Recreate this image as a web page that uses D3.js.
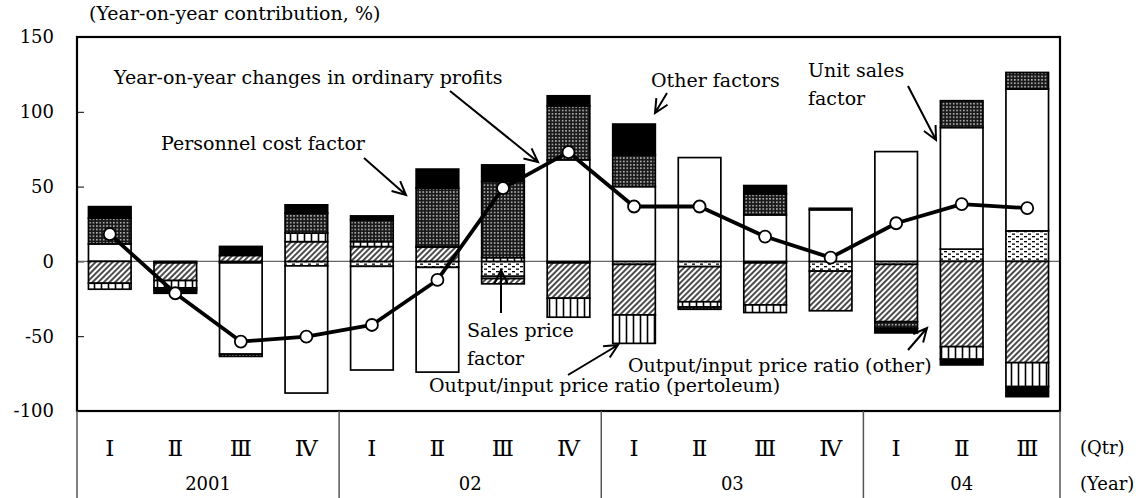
<!DOCTYPE html>
<html>
<head>
<meta charset="utf-8">
<script src="https://cdn.jsdelivr.net/npm/d3@7"></script>
<style>
  body { margin: 0; background: #fff; }
  svg { display: block; }
  text { font-family: "DejaVu Serif", "Liberation Serif", serif; fill: #000; }
</style>
</head>
<body>
<div id="chart"></div>
<script>
// quarters (x axis), fiscal years below them
const quarters = ['Ⅰ', 'Ⅱ', 'Ⅲ', 'Ⅳ', 'Ⅰ', 'Ⅱ', 'Ⅲ', 'Ⅳ', 'Ⅰ', 'Ⅱ', 'Ⅲ', 'Ⅳ', 'Ⅰ', 'Ⅱ', 'Ⅲ'];
const years = ['2001', '02', '03', '04'];
const quartersPerYear = [4, 4, 4, 3];
const yTicks = [150, 100, 50, 0, -50, -100];

// year-on-year contributions, %
const salesPrice = [0, 0, -1, -3, -3.3, -4, -10, -1, -2, -3.5, -1, -6.5, -2, 8.2, 20.4];
const unitSales = [11.7, -1, -61, -85, -69.3, -70, -1.5, 67.9, 50, 69.4, 31.1, 34.5, 73.4, 81.3, 94.8];
const ratioOther = [-14.6, -11.8, 4, 13.2, 9.9, 9.5, -3.5, -23.6, -33.8, -23.5, -28.1, -26.5, -38.3, -57, -67.7];
const ratioPetroleum = [-4, -4.9, 0, 5.7, 3.3, 0.5, 2.5, -12.7, -19, -3.5, -5.1, 0, 0, -8.4, -16];
const personnel = [17.2, -1.5, -1.5, 13.3, 14.6, 39, 50.9, 36.1, 21.2, -1.5, 14.1, 0, -4.4, 17.9, 11.1];
const otherFactors = [7.7, -2.1, 6, 5.6, 2.6, 12.7, 11.1, 6.7, 20.6, 0, 5.5, 1, -3.1, -3.8, -6.7];
const ordinaryProfits = [18.2, -21.3, -53.6, -50.3, -42.5, -12.4, 49, 73, 36.7, 36.7, 16.6, 2.5, 25.5, 38.3, 35.6];

const keys = ['salesPrice', 'unitSales', 'ratioOther', 'ratioPetroleum', 'personnel', 'otherFactors'];
const table = quarters.map((q, i) => ({
  idx: i,
  salesPrice: salesPrice[i],
  unitSales: unitSales[i],
  ratioOther: ratioOther[i],
  ratioPetroleum: ratioPetroleum[i],
  personnel: personnel[i],
  otherFactors: otherFactors[i]
}));

const width = 1141, height = 498;
const plot = { left: 77, right: 1060, top: 37, bottom: 411 };
const fontSize = 19;

const svg = d3.select('#chart').append('svg')
  .attr('width', width)
  .attr('height', height);

// fill patterns
const defs = svg.append('defs');

const pSales = defs.append('pattern').attr('id', 'p-sales')
  .attr('patternUnits', 'userSpaceOnUse').attr('width', 8).attr('height', 5);
pSales.append('rect').attr('width', 8).attr('height', 5).attr('fill', '#fff');
pSales.append('rect').attr('x', 0).attr('y', 1).attr('width', 3).attr('height', 1.3).attr('fill', '#000');
pSales.append('rect').attr('x', 4).attr('y', 3.5).attr('width', 3).attr('height', 1.3).attr('fill', '#000');

const pHatch = defs.append('pattern').attr('id', 'p-hatch')
  .attr('patternUnits', 'userSpaceOnUse').attr('width', 4).attr('height', 4)
  .attr('patternTransform', 'rotate(45)');
pHatch.append('rect').attr('width', 4).attr('height', 4).attr('fill', '#fff');
pHatch.append('line').attr('x1', 1).attr('x2', 1).attr('y1', 0).attr('y2', 4)
  .attr('stroke', '#000').attr('stroke-width', 1.4);

const pVert = defs.append('pattern').attr('id', 'p-vert')
  .attr('patternUnits', 'userSpaceOnUse').attr('width', 7).attr('height', 7);
pVert.append('rect').attr('width', 7).attr('height', 7).attr('fill', '#fff');
pVert.append('line').attr('x1', 3.5).attr('x2', 3.5).attr('y1', 0).attr('y2', 7)
  .attr('stroke', '#000').attr('stroke-width', 1.6);

const pDots = defs.append('pattern').attr('id', 'p-dots')
  .attr('patternUnits', 'userSpaceOnUse').attr('width', 3.4).attr('height', 3.4);
pDots.append('rect').attr('width', 3.4).attr('height', 3.4).attr('fill', '#1a1a1a');
pDots.append('rect').attr('x', 1).attr('y', 1).attr('width', 1.3).attr('height', 1.3).attr('fill', '#fff');

const fills = {
  salesPrice: 'url(#p-sales)',
  unitSales: '#fff',
  ratioOther: 'url(#p-hatch)',
  ratioPetroleum: 'url(#p-vert)',
  personnel: 'url(#p-dots)',
  otherFactors: '#000'
};

// scales
const x = d3.scaleBand()
  .domain(d3.range(quarters.length))
  .range([plot.left, plot.right])
  .paddingInner(0.35)
  .paddingOuter(0.175);
const step = x.step();
const cx = i => x(i) + x.bandwidth() / 2;

const y = d3.scaleLinear().domain([-100, 150]).range([plot.bottom, plot.top]);

// y axis labels + inner ticks
const yAxis = svg.append('g')
  .attr('transform', `translate(${plot.left},0)`)
  .call(d3.axisRight(y).tickValues(yTicks).tickSize(7).tickFormat(''));
yAxis.select('.domain').remove();
yAxis.selectAll('.tick line').attr('stroke', '#000').attr('stroke-width', 1);

svg.append('g').selectAll('text')
  .data(yTicks)
  .join('text')
  .attr('x', 54)
  .attr('y', d => y(d))
  .attr('dy', '0.36em')
  .attr('text-anchor', 'end')
  .attr('font-size', 18)
  .text(d => d);

// zero line
svg.append('line')
  .attr('x1', plot.left).attr('x2', plot.right)
  .attr('y1', y(0)).attr('y2', y(0))
  .attr('stroke', '#666').attr('stroke-width', 1.2);

// stacked bars
const series = d3.stack().keys(keys).offset(d3.stackOffsetDiverging)(table);

const bars = svg.append('g');
series.forEach(s => {
  bars.append('g')
    .selectAll('rect')
    .data(s.filter(d => d[1] !== d[0]))
    .join('rect')
    .attr('x', d => x(d.data.idx))
    .attr('width', x.bandwidth())
    .attr('y', d => y(Math.max(d[0], d[1])))
    .attr('height', d => Math.abs(y(d[0]) - y(d[1])))
    .attr('fill', fills[s.key])
    .attr('stroke', '#000')
    .attr('stroke-width', 1.7);
});

// ordinary profits line
const line = d3.line()
  .x((d, i) => cx(i))
  .y(d => y(d));

svg.append('path')
  .datum(ordinaryProfits)
  .attr('fill', 'none')
  .attr('stroke', '#000')
  .attr('stroke-width', 3.8)
  .attr('stroke-linejoin', 'round')
  .attr('d', line);

svg.append('g').selectAll('circle')
  .data(ordinaryProfits)
  .join('circle')
  .attr('cx', (d, i) => cx(i))
  .attr('cy', d => y(d))
  .attr('r', 6)
  .attr('fill', '#fff')
  .attr('stroke', '#000')
  .attr('stroke-width', 1.8);

// plot frame
svg.append('rect')
  .attr('x', plot.left).attr('y', plot.top)
  .attr('width', plot.right - plot.left)
  .attr('height', plot.bottom - plot.top)
  .attr('fill', 'none')
  .attr('stroke', '#000')
  .attr('stroke-width', 2.2);

// category table under the plot
const tableG = svg.append('g');
tableG.selectAll('text.q')
  .data(quarters)
  .join('text')
  .attr('class', 'q')
  .attr('x', (d, i) => cx(i))
  .attr('y', 448)
  .attr('dy', '0.36em')
  .attr('text-anchor', 'middle')
  .attr('font-size', 23)
  .text(d => d);

let start = 0;
const bounds = [plot.left];
years.forEach((yr, k) => {
  const end = start + quartersPerYear[k];
  const x0 = plot.left + start * step;
  const x1 = k === years.length - 1 ? plot.right : plot.left + end * step;
  bounds.push(x1);
  tableG.append('text')
    .attr('x', (x0 + x1) / 2)
    .attr('y', 484)
    .attr('dy', '0.36em')
    .attr('text-anchor', 'middle')
    .attr('font-size', 18)
    .text(yr);
  start = end;
});

tableG.selectAll('line')
  .data(bounds)
  .join('line')
  .attr('x1', d => d).attr('x2', d => d)
  .attr('y1', plot.bottom).attr('y2', height)
  .attr('stroke', '#555')
  .attr('stroke-width', 1.5);

svg.append('text').attr('x', 1080).attr('y', 448).attr('dy', '0.36em')
  .attr('font-size', 18).text('(Qtr)');
svg.append('text').attr('x', 1080).attr('y', 484).attr('dy', '0.36em')
  .attr('font-size', 18).text('(Year)');

// axis title
svg.append('text')
  .attr('x', 89).attr('y', 13).attr('dy', '0.36em')
  .attr('font-size', 19)
  .text('(Year-on-year contribution, %)');

// annotations
const notes = [
  { lines: ['Year-on-year changes in ordinary profits'], x: 114, y: 77 },
  { lines: ['Personnel cost factor'], x: 161, y: 143 },
  { lines: ['Other factors'], x: 651, y: 80 },
  { lines: ['Unit sales', 'factor'], x: 808, y: 70 },
  { lines: ['Sales price', 'factor'], x: 467, y: 330 },
  { lines: ['Output/input price ratio (other)'], x: 628, y: 365 },
  { lines: ['Output/input price ratio (pertoleum)'], x: 429, y: 385 }
];

notes.forEach(n => {
  const t = svg.append('text')
    .attr('font-size', fontSize)
    .attr('x', n.x)
    .attr('y', n.y);
  n.lines.forEach((l, i) => {
    t.append('tspan').attr('x', n.x).attr('dy', i === 0 ? '0.36em' : '1.5em').text(l);
  });
});

const arrows = [
  [[450, 91], [538, 162]],
  [[364, 158], [406, 195]],
  [[667, 93], [655, 113]],
  [[908, 86], [936, 140]],
  [[501, 313], [501, 270]],
  [[568, 375], [618, 345]],
  [[908, 350], [927, 328]]
];

arrows.forEach(([a, b]) => {
  const ang = Math.atan2(b[1] - a[1], b[0] - a[0]);
  const len = 15, spread = 0.45;
  const h1 = [b[0] - len * Math.cos(ang - spread), b[1] - len * Math.sin(ang - spread)];
  const h2 = [b[0] - len * Math.cos(ang + spread), b[1] - len * Math.sin(ang + spread)];
  svg.append('path')
    .attr('d', `M${a}L${b}M${h1}L${b}L${h2}`)
    .attr('fill', 'none')
    .attr('stroke', '#000')
    .attr('stroke-width', 2);
});
</script>
</body>
</html>
